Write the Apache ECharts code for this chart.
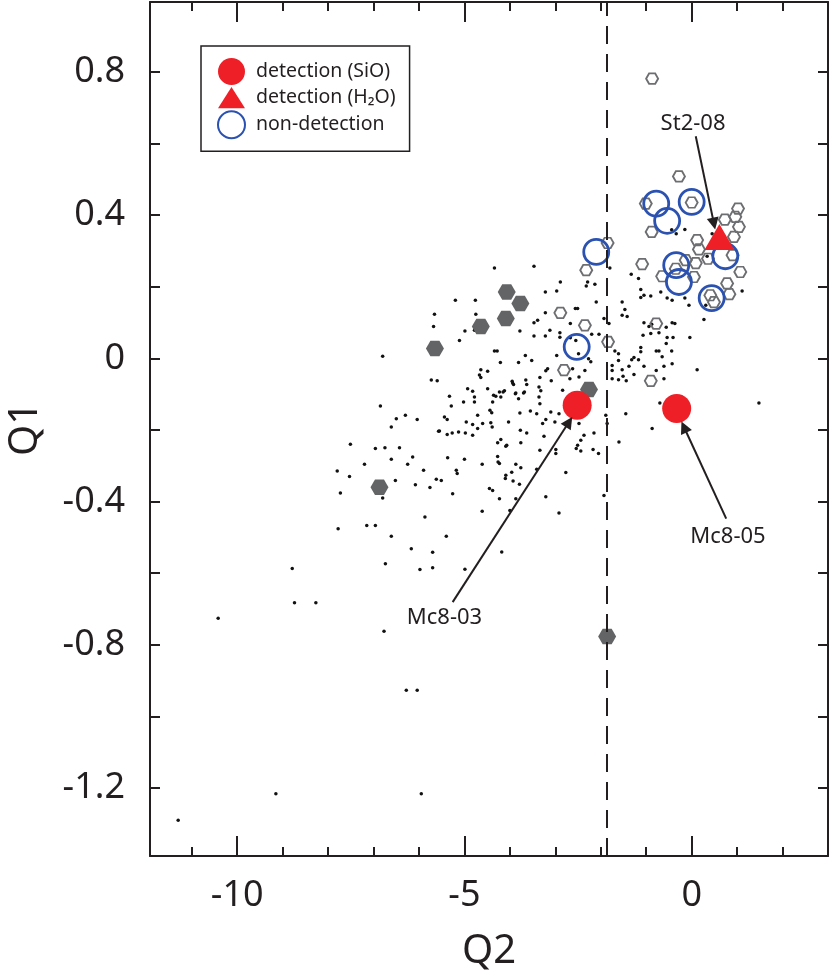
<!DOCTYPE html>
<html>
<head>
<meta charset="utf-8">
<script src="https://cdn.jsdelivr.net/npm/echarts@6/dist/echarts.min.js"></script>
<style>
  html, body { margin: 0; padding: 0; background: #fff; }
  #chart-container { width: 830px; height: 977px; }
</style>
</head>
<body>
<div id="chart-container"></div>
<script>
var dom = document.getElementById('chart-container');
var myChart = echarts.init(dom, null, { renderer: 'canvas' });

// axis ranges and ticks
var xMin = -11.92, xMax = 3;
var yMin = -1.39, yMax = 0.995;
var xMajorTicks = [-10, -5, 0];
var xMinorTicks = [-11, -10, -9, -8, -7, -6, -5, -4, -3, -2, -1, 0, 1, 2];
var yTicks = [-1.2, -1.0, -0.8, -0.6, -0.4, -0.2, 0, 0.2, 0.4, 0.6, 0.8];
var yLabels = [-1.2, -0.8, -0.4, 0, 0.4, 0.8];
var divideQ2 = -1.87;

// small black dots (Q2, Q1)
var dots = [
  [-6.85,-0.133],[-6.50,-0.169],[-6.30,-0.159],[-6.04,-0.171],[-6.61,-0.192],[-5.44,-0.164],[-5.38,-0.171],
  [-5.57,-0.204],[-5.38,-0.213],[-7.51,-0.240],[-6.96,-0.252],[-6.75,-0.250],[-6.43,-0.250],[-6.61,-0.282],
  [-6.14,-0.276],[-6.25,-0.296],[-7.20,-0.296],[-5.37,-0.278],[-7.80,-0.315],[-7.53,-0.330],[-5.90,-0.313],
  [-5.62,-0.338],[-5.51,-0.341],[-6.52,-0.341],[-6.08,-0.353],[-5.76,-0.361],[-7.73,-0.376],[-6.80,-0.390],
  [-5.87,-0.443],[-7.78,-0.476],[-7.15,-0.467],[-6.96,-0.467],[-6.61,-0.497],[-5.40,-0.497],[-6.17,-0.532],
  [-5.70,-0.542],[-6.74,-0.574],[-5.98,-0.590],[-5.70,-0.585],[-8.79,-0.587],[-8.74,-0.683],[-8.27,-0.683],
  [-10.42,-0.726],[-6.77,-0.762],[-6.28,-0.927],[-6.04,-0.927],[-9.15,-1.216],[-5.95,-1.216],[-11.30,-1.290],
  [-6.80,0.006],
  [-4.34,0.252],[-3.47,0.257],[-2.89,0.213],[-2.29,0.213],[-2.13,0.207],[-2.32,0.202],[-3.22,0.185],
  [-2.97,0.188],[-2.10,0.157],[-5.20,0.162],[-4.76,0.162],[-2.56,0.139],[-2.51,0.139],[-3.22,0.127],
  [-5.66,0.123],[-4.75,0.123],[-3.39,0.106],[-3.47,0.099],[-4.01,0.097],[-2.67,0.097],[-3.12,0.078],
  [-2.90,0.071],[-3.78,0.076],[-5.68,0.089],[-4.99,0.076],[-4.78,0.078],[-3.47,0.062],[-3.22,0.062],
  [-2.90,0.059],[-2.67,0.057],[-5.11,0.050],[-2.55,0.050],[-2.49,0.013],[-4.34,0.020],[-4.28,0.020],
  [-3.66,0.008],[-3.52,-0.006],[-3.81,-0.012],[-2.97,0.008],[-2.27,-0.001],[-2.22,-0.010],[-3.17,-0.029],
  [-3.21,-0.035],[-2.62,-0.029],[-4.64,-0.032],[-4.49,-0.036],[-4.21,-0.012],[-4.67,-0.047],[-4.64,-0.054],
  [-3.95,-0.064],[-3.92,-0.073],[-3.65,-0.061],[-3.63,-0.073],[-3.34,-0.054],[-3.36,-0.080],[-3.32,-0.091],
  [-3.09,-0.063],[-2.68,-0.057],[-2.48,-0.052],[-5.73,-0.061],[-5.60,-0.063],[-4.93,-0.085],[-4.82,-0.092],
  [-4.49,-0.085],[-4.23,-0.094],[-4.12,-0.091],[-3.87,-0.097],[-3.70,-0.097],[-5.33,-0.106],[-5.29,-0.133],
  [-5.02,-0.122],[-4.78,-0.108],[-4.78,-0.122],[-4.36,-0.103],[-4.20,-0.108],[-3.36,-0.108],[-3.34,-0.127],
  [-4.44,-0.145],[-4.40,-0.152],[-3.78,-0.153],[-3.55,-0.147],[-3.41,-0.155],[-3.10,-0.150],[-2.92,-0.155],
  [-4.71,-0.159],[-4.96,-0.178],[-4.82,-0.185],[-4.60,-0.182],[-4.03,-0.178],[-3.21,-0.171],[-3.01,-0.178],
  [-4.39,-0.192],[-3.77,-0.201],[-3.63,-0.209],[-5.55,-0.203],[-5.27,-0.209],[-5.13,-0.206],[-4.98,-0.209],
  [-4.82,-0.215],[-3.25,-0.218],[-4.20,-0.227],[-4.27,-0.236],[-4.07,-0.243],[-3.76,-0.236],[-3.34,-0.257],
  [-2.99,-0.255],[-2.51,-0.243],[-2.44,-0.229],[-2.37,-0.215],[-2.15,-0.209],[-5.00,-0.282],[-4.61,-0.296],
  [-4.26,-0.290],[-3.76,-0.306],[-3.41,-0.310],[-5.18,-0.313],[-5.16,-0.322],[-4.09,-0.327],[-3.96,-0.318],
  [-2.77,-0.319],
  [-4.31,-0.106],[-4.15,-0.094],[-4.38,-0.122],[-3.94,-0.069],[-3.88,-0.099],[-3.81,-0.113],[-3.68,-0.094],
  [-2.84,-0.089],[-4.42,-0.180],[-4.71,-0.196],[-3.28,-0.182],[-2.48,-0.182],[-1.89,-0.159],[-1.86,-0.182],
  [-1.45,-0.155],[-1.60,-0.234],[-2.54,-0.252],[-2.44,-0.259],[-2.17,-0.255],[-2.05,-0.266],[-2.99,-0.266],
  [-4.09,-0.246],[-4.27,-0.274],[-4.23,-0.294],[-3.87,-0.296],[-4.10,-0.336],[-3.79,-0.352],[-3.93,-0.343],
  [-4.45,-0.364],[-4.38,-0.369],[-3.21,-0.387],[-3.87,-0.392],[-4.23,-0.392],[-5.26,-0.378],[-1.93,-0.383],
  [-4.61,-0.427],[-4.00,-0.425],[-2.92,-0.432],[-4.18,-0.541],[-4.99,-0.589],
  [-0.70,-0.125],[-0.87,-0.196],[1.48,-0.125],
  [-1.93,0.111],[-1.82,0.097],[-1.53,0.120],[-1.42,0.117],[-1.47,0.136],[-1.53,0.157],[-1.05,0.099],
  [-0.94,0.089],[-0.88,0.095],[-1.07,0.064],[-0.90,0.069],[-0.72,0.071],[-0.56,0.087],[-0.43,0.099],
  [-0.37,0.097],[-0.54,0.058],[-0.41,0.058],[-0.56,0.041],[-0.44,0.020],[-0.78,0.020],[-0.72,0.020],
  [-1.12,0.030],[-1.12,0.018],[-0.65,0.004],[-0.43,-0.015],[-0.61,-0.022],[-0.78,-0.034],[-0.61,-0.057],
  [-1.05,-0.022],[-1.32,-0.004],[-1.27,0.002],[-1.17,-0.004],[-1.38,-0.022],[-1.53,-0.032],[-1.61,-0.006],
  [-1.75,-0.020],[-1.69,0.020],[-1.61,0.013],[-1.75,-0.034],[-1.75,-0.057],[-1.61,-0.060],[-1.51,-0.050],
  [-1.44,-0.063],[-1.27,-0.045],[-2.20,0.067],[-2.04,0.067],[-2.35,-0.034],[-0.04,0.058],[0.12,-0.032],
  [0.27,0.108],[-0.43,0.162],
  [-0.44,0.359],[-0.34,0.348],[-0.15,0.360],[0.34,0.285],[-1.80,0.252],[-1.33,0.235],[-1.12,0.192],
  [-1.05,0.176],[-0.90,0.174],[-1.12,0.170],[-0.68,0.185],[-0.54,0.168],[-0.15,0.168],[-0.06,0.148],
  [-1.17,0.223],[0.31,0.148],[1.11,0.188],[0.45,0.348]
];

// open grey hexagons
var openHex = [
  [-0.87,0.781],[-0.28,0.508],[-1.01,0.432],[0.00,0.435],[1.02,0.418],[0.96,0.395],[0.73,0.387],
  [1.04,0.367],[-0.88,0.353],[0.12,0.330],[-1.85,0.322],[0.93,0.339],[0.16,0.304],[0.36,0.278],
  [-0.13,0.274],[0.09,0.266],[0.90,0.288],[-1.09,0.263],[-0.65,0.229],[0.05,0.227],[1.07,0.241],
  [0.78,0.209],[0.83,0.179],[0.41,0.176],[0.49,0.157],[-2.32,0.246],[-0.78,0.097],[-2.35,0.092],
  [-0.35,0.250],[-1.84,0.046],[-0.90,-0.063],[-2.89,0.127],[-2.81,-0.033]
];

// filled grey hexagons
var filledHex = [
  [-4.07,0.185],[-3.77,0.153],[-4.09,0.111],[-4.64,0.089],[-5.65,0.027],[-2.26,-0.087],[-6.87,-0.360],
  [-1.86,-0.777]
];

var nonDetection = [
  [-0.78,0.432],[0.00,0.437],[-0.54,0.384],[-2.10,0.297],[-0.34,0.260],[-0.28,0.213],[0.74,0.285],
  [0.44,0.168],[-2.53,0.032]
];
var detectionSiO = [[-2.52,-0.131],[-0.33,-0.140]];
var detectionH2O = [[0.61,0.339]];

// labelled sources: name, text position, arrow start, arrow end
var labelNames = ['St2-08', 'Mc8-03', 'Mc8-05'];
var labelPos = [[0.03,0.655], [-5.44,-0.724], [0.80,-0.497]];
var arrowFrom = [[0.09,0.620], [-5.26,-0.681], [0.76,-0.448]];
var arrowTo = [[0.49,0.376], [-2.70,-0.178], [-0.17,-0.192]];

var hexPath = 'path://M0,4.33L2.5,0L7.5,0L10,4.33L7.5,8.66L2.5,8.66Z';
var triPath = 'path://M14,0L28,22L0,22Z';
var ink = '#231f20';
var red = '#ee1f26';
var blue = '#2b52b0';
var grey = '#6d6e71';
var font = 'Noto Sans';

function xAxisDef(pos, ticks, len, showLine) {
  return {
    type: 'value', position: pos, min: xMin, max: xMax,
    axisLine: { show: showLine, onZero: false, lineStyle: { color: ink, width: 2 } },
    axisTick: { show: true, inside: true, length: len, customValues: ticks, lineStyle: { color: ink, width: 2 } },
    axisLabel: { show: false },
    splitLine: { show: false }
  };
}

var xBottom = xAxisDef('bottom', xMajorTicks, 20, true);
xBottom.name = 'Q2';
xBottom.nameLocation = 'middle';
xBottom.nameGap = 76;
xBottom.nameTextStyle = { fontFamily: font, fontSize: 40, color: ink };
xBottom.axisLabel = { show: true, customValues: xMajorTicks, margin: 22, fontSize: 36, color: ink, fontFamily: font };

var option = {
  animation: false,
  textStyle: { fontFamily: font },
  grid: { left: 150, right: 2, top: 2, bottom: 121, outerBoundsMode: 'none' },
  legend: {
    orient: 'vertical',
    left: 201,
    top: 46,
    itemWidth: 27,
    itemHeight: 27,
    itemGap: 2,
    padding: [12, 14, 12, 16],
    borderColor: ink,
    borderWidth: 1.5,
    selectedMode: false,
    textStyle: { fontFamily: font, fontSize: 19.5, color: ink, padding: [0, 0, 0, 6] },
    data: [
      { name: 'detection (SiO)', icon: 'circle' },
      { name: 'detection (H₂O)', icon: triPath },
      { name: 'non-detection', icon: 'circle' }
    ]
  },
  xAxis: [
    xBottom,
    xAxisDef('bottom', xMinorTicks, 9, false),
    xAxisDef('top', xMajorTicks, 20, true),
    xAxisDef('top', xMinorTicks, 9, false)
  ],
  yAxis: [
    {
      type: 'value', position: 'left', min: yMin, max: yMax,
      name: 'Q1', nameLocation: 'middle', nameGap: 104,
      nameTextStyle: { fontFamily: font, fontSize: 40, color: ink },
      axisLine: { show: true, onZero: false, lineStyle: { color: ink, width: 2 } },
      axisTick: { show: true, inside: true, length: 10, customValues: yTicks, lineStyle: { color: ink, width: 2 } },
      axisLabel: { show: true, customValues: yLabels, margin: 25, fontSize: 36, color: ink, fontFamily: font },
      splitLine: { show: false }
    },
    {
      type: 'value', position: 'right', min: yMin, max: yMax,
      axisLine: { show: true, onZero: false, lineStyle: { color: ink, width: 2 } },
      axisTick: { show: true, inside: true, length: 10, customValues: yTicks, lineStyle: { color: ink, width: 2 } },
      axisLabel: { show: false },
      splitLine: { show: false }
    }
  ],
  series: [
    {
      name: 'sources',
      type: 'scatter',
      data: dots,
      symbolSize: 3.5,
      itemStyle: { color: '#111', opacity: 1 },
      silent: true,
      markLine: {
        silent: true,
        symbol: 'none',
        label: { show: false },
        lineStyle: { color: ink, width: 2, type: [18, 10], opacity: 1 },
        data: [{ xAxis: divideQ2 }]
      }
    },
    {
      name: 'open',
      type: 'scatter',
      data: openHex,
      symbol: hexPath,
      symbolSize: [12, 10.5],
      itemStyle: { color: 'rgba(255,255,255,0)', borderColor: grey, borderWidth: 1.8, opacity: 1 },
      silent: true
    },
    {
      name: 'filled',
      type: 'scatter',
      data: filledHex,
      symbol: hexPath,
      symbolSize: [18, 15.5],
      itemStyle: { color: '#636466', opacity: 1 },
      silent: true
    },
    {
      name: 'non-detection',
      type: 'scatter',
      data: nonDetection,
      symbol: 'circle',
      symbolSize: 25,
      itemStyle: { color: 'rgba(255,255,255,0)', borderColor: blue, borderWidth: 2.8, opacity: 1 },
      silent: true
    },
    {
      name: 'detection (SiO)',
      type: 'scatter',
      data: detectionSiO,
      symbol: 'circle',
      symbolSize: 29,
      itemStyle: { color: red, opacity: 1 },
      silent: true
    },
    {
      name: 'detection (H₂O)',
      type: 'scatter',
      data: detectionH2O,
      symbol: triPath,
      symbolSize: [30, 26],
      itemStyle: { color: red, opacity: 1 },
      silent: true
    },
    {
      name: 'labels',
      type: 'scatter',
      symbolSize: 1,
      silent: true,
      itemStyle: { color: 'rgba(255,255,255,0)', opacity: 1 },
      data: labelNames.map(function (n, i) { return { name: n, value: labelPos[i] }; }),
      label: {
        show: true, position: 'inside', formatter: '{b}',
        fontFamily: font, fontSize: 22, color: ink, opacity: 1
      },
      markLine: {
        silent: true,
        symbol: ['none', 'triangle'],
        symbolSize: 12,
        label: { show: false },
        itemStyle: { color: ink },
        lineStyle: { color: ink, width: 2, type: 'solid', opacity: 1 },
        data: labelNames.map(function (n, i) {
          return [{ coord: arrowFrom[i] }, { coord: arrowTo[i] }];
        })
      }
    }
  ]
};

myChart.setOption(option);
window.addEventListener('resize', myChart.resize);
</script>
</body>
</html>
